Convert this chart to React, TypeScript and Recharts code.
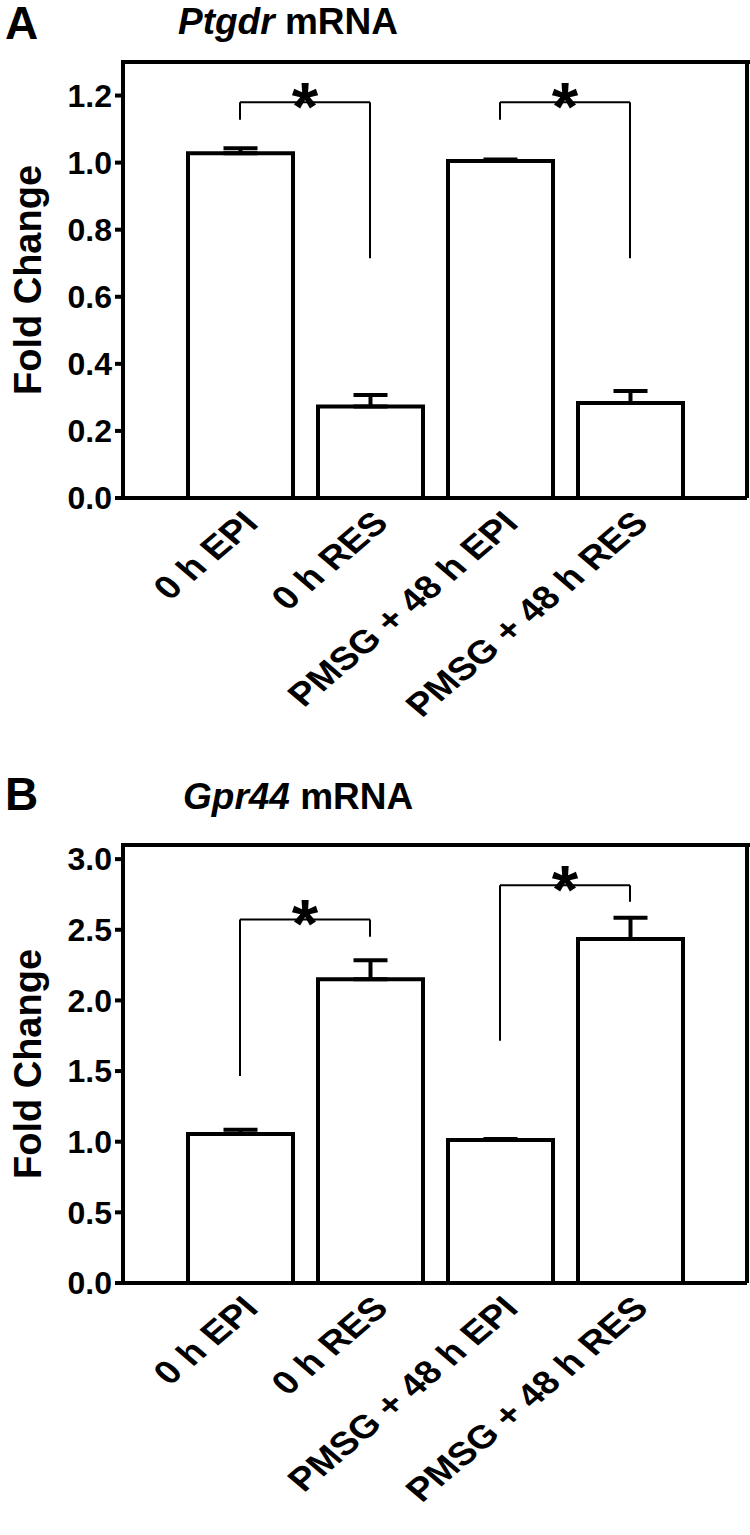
import React from 'react';
import { BarChart, Bar, XAxis, YAxis, ErrorBar, ReferenceLine } from 'recharts';

const categories = ['0 h EPI', '0 h RES', 'PMSG + 48 h EPI', 'PMSG + 48 h RES'];

// Ptgdr mRNA (panel A)
const ptgdrMean = [1.028, 0.273, 1.005, 0.283];
const ptgdrErr = [0.015, 0.034, 0.004, 0.036];
const ptgdrTicks = [0, 0.2, 0.4, 0.6, 0.8, 1.0, 1.2];

// Gpr44 mRNA (panel B)
const gpr44Mean = [1.055, 2.15, 1.012, 2.435];
const gpr44Err = [0.03, 0.135, 0.008, 0.15];
const gpr44Ticks = [0, 0.5, 1.0, 1.5, 2.0, 2.5, 3.0];

// significance brackets, in data units
const ptgdrBrackets = [
  { from: '0 h EPI', to: '0 h RES', top: 1.18, leftEnd: 1.128, rightEnd: 0.715 },
  { from: 'PMSG + 48 h EPI', to: 'PMSG + 48 h RES', top: 1.18, leftEnd: 1.128, rightEnd: 0.715 },
];
const gpr44Brackets = [
  { from: '0 h EPI', to: '0 h RES', top: 2.573, leftEnd: 1.465, rightEnd: 2.45 },
  { from: 'PMSG + 48 h EPI', to: 'PMSG + 48 h RES', top: 2.816, leftEnd: 1.715, rightEnd: 2.698 },
];

const FONT = '"Liberation Sans", Arial, sans-serif';
const Y_AXIS_W = 123;

// slanted category label, a bit wider than tall like the original
function AngledTick({ x, y, payload }: any) {
  const tx = x + 20;
  const ty = y + 25;
  return (
    <g transform={`translate(${tx}, ${ty}) scale(1.18, 1) rotate(-45)`}>
      <text x={0} y={0} textAnchor="end" fontSize={32.5} fontWeight={700} fill="#000">
        {payload.value}
      </text>
    </g>
  );
}

function Chart({ means, errs, ticks, max, brackets, height, plotTop, axisHeight }: any) {
  const data = categories.map((name, i) => ({ name, value: means[i], err: [0, errs[i]] }));
  return (
    <div style={{ position: 'relative', width: 750, height }}>
      <BarChart width={750} height={height} data={data} margin={{ top: plotTop, right: 0, left: 0, bottom: 0 }}>
        <XAxis
          dataKey="name"
          height={axisHeight}
          padding={{ left: 52, right: 52 }}
          tickLine={false}
          tickSize={0}
          axisLine={{ stroke: '#000', strokeWidth: 4 }}
          tick={<AngledTick />}
          interval={0}
        />
        <YAxis
          width={Y_AXIS_W}
          domain={[0, max]}
          ticks={ticks}
          interval={0}
          tickFormatter={(v: number) => v.toFixed(1)}
          tickSize={8}
          tickMargin={3}
          tickLine={{ stroke: '#000', strokeWidth: 4 }}
          axisLine={{ stroke: '#000', strokeWidth: 4 }}
          tick={{ fontSize: 32, fontWeight: 700, fill: '#000' }}
          label={{ value: 'Fold Change', angle: -90, position: 'center', dx: -34, fontSize: 38, fontWeight: 700, fill: '#000' }}
        />
        <YAxis yAxisId="right" orientation="right" width={3} tick={false} tickLine={false} axisLine={{ stroke: '#000', strokeWidth: 4 }} />
        <Bar dataKey="value" barSize={105} fill="#fff" stroke="#000" strokeWidth={4} isAnimationActive={false}>
          <ErrorBar dataKey="err" direction="y" width={17} stroke="#000" strokeWidth={4} />
        </Bar>
        {brackets.flatMap((b: any, i: number) => [
          <ReferenceLine
            key={`h${i}`}
            segment={[{ x: b.from, y: b.top }, { x: b.to, y: b.top }]}
            stroke="#000"
            strokeWidth={2}
            label={{ value: '*', position: 'top', offset: -28, fontSize: 68, fontWeight: 700, fill: '#000' }}
          />,
          <ReferenceLine key={`l${i}`} segment={[{ x: b.from, y: b.top }, { x: b.from, y: b.leftEnd }]} stroke="#000" strokeWidth={2} />,
          <ReferenceLine key={`r${i}`} segment={[{ x: b.to, y: b.top }, { x: b.to, y: b.rightEnd }]} stroke="#000" strokeWidth={2} />,
        ])}
      </BarChart>
      {/* top edge of the frame */}
      <div
        style={{
          position: 'absolute',
          left: Y_AXIS_W - 2,
          top: plotTop - 2,
          width: 750 - Y_AXIS_W + 2,
          height: 4,
          background: '#000',
        }}
      />
    </div>
  );
}

export default function App() {
  return (
    <div style={{ position: 'relative', width: 750, height: 1535, fontFamily: FONT, background: '#fff' }}>
      <style>{'body{margin:0}'}</style>
      <div style={{ position: 'absolute', left: 0, top: 0 }}>
        <Chart means={ptgdrMean} errs={ptgdrErr} ticks={ptgdrTicks} max={1.3} brackets={ptgdrBrackets} height={762} plotTop={62} axisHeight={264} />
      </div>
      <div style={{ position: 'absolute', left: 0, top: 770 }}>
        <Chart means={gpr44Mean} errs={gpr44Err} ticks={gpr44Ticks} max={3.1} brackets={gpr44Brackets} height={765} plotTop={75} axisHeight={252} />
      </div>
      <div style={{ position: 'absolute', left: 5, top: 0, fontSize: 46, fontWeight: 700, lineHeight: 1 }}>A</div>
      <div style={{ position: 'absolute', left: 178, top: 3, fontSize: 37, fontWeight: 700, lineHeight: 1, whiteSpace: 'nowrap' }}>
        <i>Ptgdr</i> mRNA
      </div>
      <div style={{ position: 'absolute', left: 5, top: 771, fontSize: 46, fontWeight: 700, lineHeight: 1 }}>B</div>
      <div style={{ position: 'absolute', left: 183, top: 778, fontSize: 37, fontWeight: 700, lineHeight: 1, whiteSpace: 'nowrap' }}>
        <i>Gpr44</i> mRNA
      </div>
    </div>
  );
}
